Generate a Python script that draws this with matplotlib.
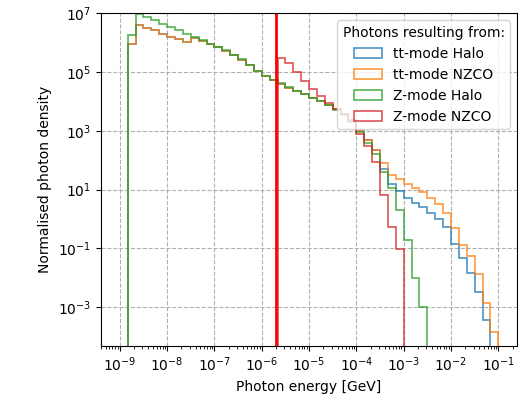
import numpy as np
import matplotlib
matplotlib.use('Agg')
import matplotlib.pyplot as plt

# log-spaced energy bins, 6 per decade from 1e-9 to 1e-1 GeV
edges = 10**np.linspace(-9, -1, 49)
centres = np.sqrt(edges[:-1]*edges[1:])

# log10 of the normalised density per bin, starting at bin index given
tt_halo_start = 1
tt_halo = [5.95, 6.59, 6.50, 6.42, 6.31, 6.21, 6.12, 6.03, 6.18, 6.06,
           5.95, 5.84, 5.72, 5.58, 5.42, 5.23, 5.03, 4.86, 4.72, 4.60,
           4.47, 4.36, 4.25, 4.12, 4.00, 3.88, 3.74, 3.58, 3.36, 3.00,
           2.70, 2.35, 1.70, 1.20, 0.95, 0.72, 0.55, 0.40, 0.20, 0.00,
           -0.28, -0.85, -1.34, -1.85, -2.48, -3.44]

tt_nzco_start = 1
tt_nzco = [5.95, 6.59, 6.50, 6.42, 6.31, 6.21, 6.12, 6.03, 6.18, 6.06,
           5.95, 5.84, 5.72, 5.58, 5.42, 5.23, 5.03, 4.86, 4.72, 4.60,
           4.47, 4.36, 4.25, 4.12, 4.00, 3.88, 3.74, 3.58, 3.36, 3.00,
           2.70, 2.35, 1.90, 1.50, 1.35, 1.20, 1.05, 0.90, 0.72, 0.50,
           0.20, -0.30, -0.90, -1.25, -1.88, -2.85, -3.86]

z_halo_start = 1
z_halo = [6.27, 6.99, 6.88, 6.77, 6.65, 6.53, 6.42, 6.31, 6.20, 6.08,
          5.97, 5.86, 5.74, 5.60, 5.44, 5.25, 5.05, 4.88, 4.74, 4.62,
          4.49, 4.37, 4.25, 4.12, 4.00, 3.87, 3.72, 3.55, 3.32, 2.95,
          2.60, 2.20, 1.60, 1.05, 0.31, -0.71, -2.02, -2.99]

z_nzco_start = 20
z_nzco = [5.48, 5.30, 5.00, 4.70, 4.42, 4.18, 3.95, 3.76, 3.56, 3.30,
          2.90, 2.50, 1.95, 0.82, -0.26, -1.02]

labels = ['tt-mode Halo', 'tt-mode NZCO', 'Z-mode Halo', 'Z-mode NZCO']
series = [(tt_halo_start, tt_halo), (tt_nzco_start, tt_nzco),
          (z_halo_start, z_halo), (z_nzco_start, z_nzco)]

e_cut = 2e-6  # GeV
yticks = [1e-3, 1e-1, 1e1, 1e3, 1e5, 1e7]


def to_weights(start, logvals):
    w = np.zeros(len(centres))
    w[start:start + len(logvals)] = 10**np.array(logvals)
    return w


fig, ax = plt.subplots(figsize=(5.31, 3.95), dpi=100)
fig.subplots_adjust(left=0.19, right=0.974, top=0.966, bottom=0.124)

for (start, vals), lab in zip(series, labels):
    ax.hist(centres, bins=edges, weights=to_weights(start, vals),
            histtype='step', log=True, lw=1.2, alpha=0.8, label=lab)

ax.axvline(e_cut, color='red', lw=2)

ax.set_xscale('log')
ax.set_xlim(10**-9.4, 10**-0.6)
ax.set_yticks(yticks)
ax.set_yticks([], minor=True)
ax.set_ylim(10**-4.33, 1e7)
ax.grid(True, ls='--')
ax.set_xlabel('Photon energy [GeV]')
ax.set_ylabel('Normalised photon density')
ax.legend(title='Photons resulting from:', loc='upper right')

plt.savefig('out.png')
